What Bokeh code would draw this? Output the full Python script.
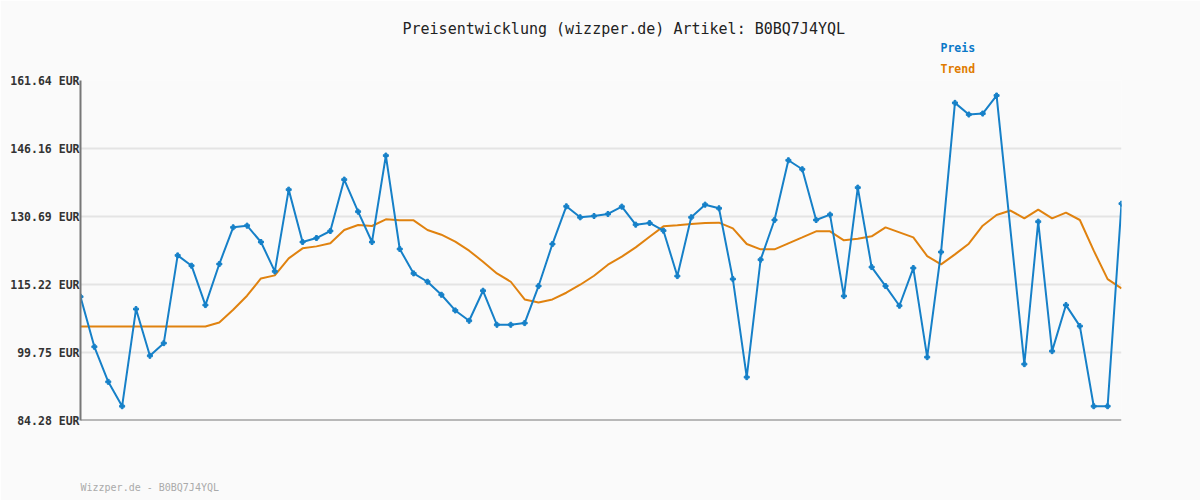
from bokeh.plotting import figure
from bokeh.models import Range1d, FixedTicker, Title
from bokeh.embed import file_html
from bokeh.resources import INLINE

title_text = "Preisentwicklung (wizzper.de) Artikel: B0BQ7J4YQL"
footer_text = "Wizzper.de - B0BQ7J4YQL"
series_names = ["Preis", "Trend"]

tick_values = [84.28, 99.75, 115.22, 130.69, 146.16, 161.64]
tick_labels = ["84.28 EUR", "99.75 EUR", "115.22 EUR", "130.69 EUR", "146.16 EUR", "161.64 EUR"]

preis = [112.44, 101.05, 93.08, 87.53, 109.63, 99.0, 101.88, 121.85, 119.5, 110.54,
         119.88, 128.23, 128.61, 124.89, 118.21, 136.81, 124.89, 125.8, 127.4, 139.09,
         131.8, 124.89, 144.56, 123.3, 117.75, 115.85, 112.89, 109.32, 106.97, 113.8,
         106.06, 106.06, 106.44, 114.87, 124.43, 133.01, 130.51, 130.81, 131.27, 132.94,
         128.84, 129.22, 127.47, 117.14, 130.51, 133.39, 132.56, 116.46, 94.14, 120.87,
         129.9, 143.49, 141.44, 129.9, 131.12, 112.59, 137.27, 119.19, 114.87, 110.39,
         118.97, 98.69, 122.61, 156.55, 153.9, 154.12, 158.22, None, 97.1, 129.52,
         100.06, 110.54, 105.76, 87.53, 87.53, 133.62]

trend = [105.68, 105.68, 105.68, 105.68, 105.68, 105.68, 105.68, 105.68, 105.68, 105.68,
         106.59, 109.48, 112.67, 116.61, 117.3, 121.17, 123.45, 123.9, 124.59, 127.62,
         128.76, 128.54, 130.05, 129.83, 129.83, 127.62, 126.56, 124.97, 122.92, 120.41,
         117.75, 115.85, 111.83, 111.15, 111.83, 113.35, 115.17, 117.22, 119.73, 121.55,
         123.67, 126.1, 128.46, 128.69, 128.99, 129.22, 129.3, 128.0, 124.44, 123.22,
         123.22, 124.59, 125.95, 127.32, 127.32, 125.27, 125.65, 126.18, 128.23, 127.09,
         125.95, 121.7, 119.8, 122.08, 124.51, 128.61, 131.04, 132.06, 130.28, 132.26,
         130.28, 131.57, 129.9, 122.92, 116.46, 114.34]

x_all = list(range(len(trend)))
px = [i for i, v in zip(x_all, preis) if v is not None]
py = [v for v in preis if v is not None]

BLUE = "#1680c8"
ORANGE = "#e0820f"
BG = "#fafafa"
MONO = "DejaVu Sans Mono"

p = figure(width=1200, height=500, output_backend="svg", toolbar_location=None,
           x_range=Range1d(0, len(trend) - 1), y_range=Range1d(tick_values[0], tick_values[-1]),
           min_border_left=80, min_border_right=79, min_border_top=80, min_border_bottom=80,
           background_fill_color=BG, border_fill_color=BG, outline_line_color=None)
p.title.visible = False

p.xaxis.visible = False
p.xgrid.visible = False
p.yaxis.ticker = FixedTicker(ticks=tick_values)
p.yaxis.major_label_overrides = {v: l for v, l in zip(tick_values, tick_labels)}
p.yaxis.major_tick_line_color = None
p.yaxis.minor_tick_line_color = None
p.yaxis.axis_line_color = "#777777"
p.yaxis.axis_line_width = 2
p.yaxis.major_label_standoff = -5
p.yaxis.major_label_text_font = MONO
p.yaxis.major_label_text_font_style = "bold"
p.yaxis.major_label_text_font_size = "11.5px"
p.yaxis.major_label_text_color = "#333333"
p.ygrid.grid_line_color = "#e4e4e4"
p.ygrid.grid_line_width = 2

# bottom axis line
p.line(x=[x_all[0], x_all[-1]], y=[tick_values[0], tick_values[0]], line_color="#777777", line_width=2)

p.line(x=x_all, y=trend, line_color=ORANGE, line_width=2)
p.line(x=px, y=py, line_color=BLUE, line_width=2)
p.scatter(x=px, y=py, marker="plus", size=5, color=BLUE, line_width=1)

p.add_layout(Title(text=series_names[1], align="left", offset=860, standoff=10,
                   text_font=MONO, text_font_size="11.5px", text_font_style="bold",
                   text_color="#e07b00"), "above")
p.add_layout(Title(text=series_names[0], align="left", offset=860, standoff=0,
                   text_font=MONO, text_font_size="11.5px", text_font_style="bold",
                   text_color="#0a78c8"), "above")
p.add_layout(Title(text=title_text, align="left", offset=322, standoff=1,
                   text_font=MONO, text_font_size="15px", text_font_style="normal",
                   text_color="#222222"), "above")

# spacer below the frame, then the footer
p.add_layout(Title(text=" ", align="left", standoff=56, text_font_size="1px"), "below")
p.add_layout(Title(text=footer_text, align="left", offset=0, standoff=4, vertical_align="top",
                   text_font=MONO, text_font_size="10px", text_font_style="normal",
                   text_color="#aaaaaa"), "below")

open("out.html", "w").write(file_html(p, INLINE))
